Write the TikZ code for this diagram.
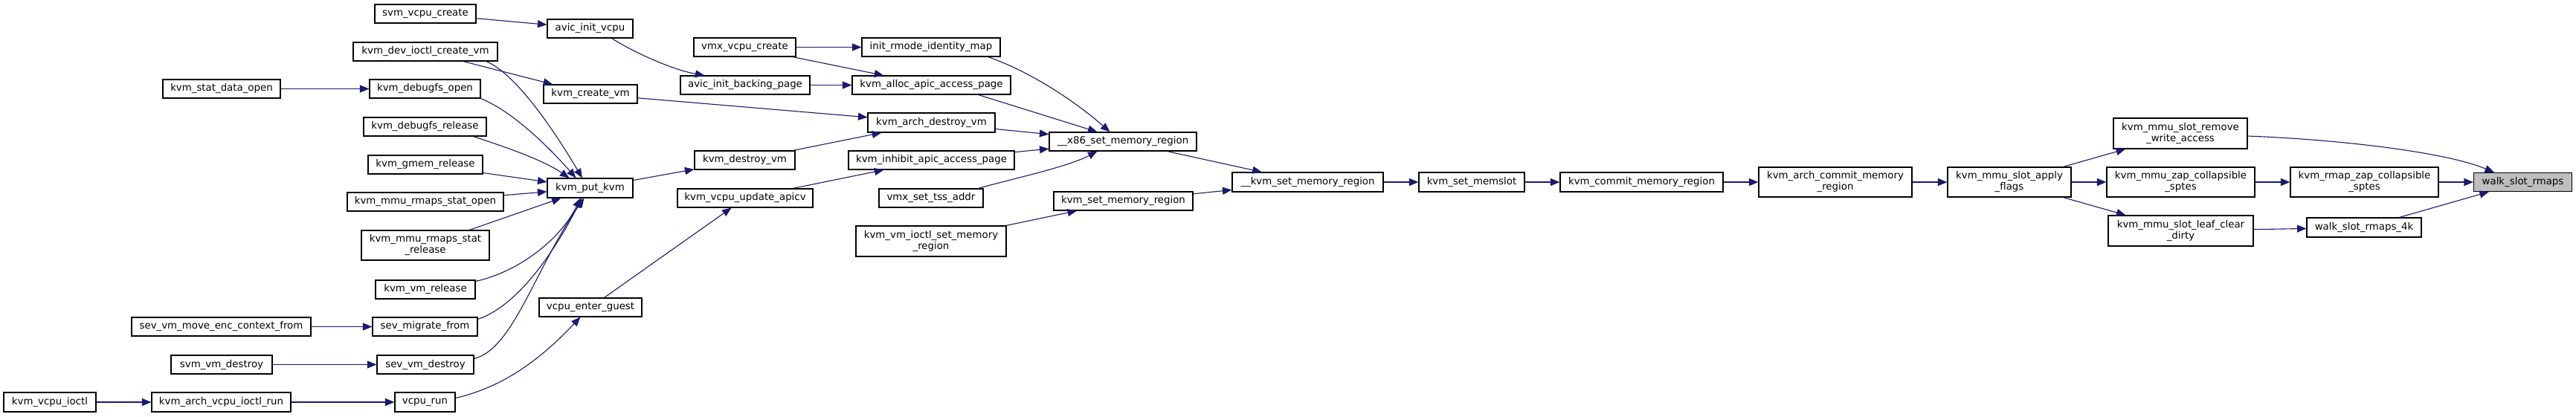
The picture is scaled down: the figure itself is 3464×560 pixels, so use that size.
\documentclass[tikz,border=0pt]{standalone}
\usepackage{fontspec}
\setmainfont{DejaVu Sans}
\usetikzlibrary{arrows.meta,calc}
\definecolor{edgeblue}{HTML}{191970}
\definecolor{rootfill}{HTML}{BFBFBF}
\begin{document}
\begin{tikzpicture}[x=1pt,y=-1pt,
 box/.style={draw=black, line width=1.1pt, fill=white, inner sep=0pt, minimum height=25pt, align=center, font=\fontsize{13.33}{15}\selectfont},
 root/.style={fill=rootfill},
 conn/.style={draw=edgeblue, line width=1.1pt, -{Triangle[length=12.5pt,width=10pt]}}]
\useasboundingbox (0,0) rectangle (3464,560);
% column C/D (left part)
\node[box, minimum width=136pt] (svmvc) at (572,18.5) {svm\_vcpu\_create};
\node[box, minimum width=115pt] (avicvcpu) at (793.5,38.5) {avic\_init\_vcpu};
\node[box, minimum width=194pt] (devioctl) at (572,69.5) {kvm\_dev\_ioctl\_create\_vm};
\node[box, minimum width=158pt] (statopen) at (298,119.5) {kvm\_stat\_data\_open};
\node[box, minimum width=149pt] (dbgopen) at (571.5,119.5) {kvm\_debugfs\_open};
\node[box, minimum width=126pt] (createvm) at (794,126.5) {kvm\_create\_vm};
\node[box, minimum width=165pt] (dbgrel) at (571.5,170.5) {kvm\_debugfs\_release};
\node[box, minimum width=154pt] (gmemrel) at (572,221.5) {kvm\_gmem\_release};
\node[box, minimum width=115pt, minimum height=26pt] (putkvm) at (793.5,253) {kvm\_put\_kvm};
\node[box, minimum width=210pt] (rmapsopen) at (572,271.5) {kvm\_mmu\_rmaps\_stat\_open};
\node[box, minimum width=172pt, minimum height=40pt] (rmapsrel) at (572,330) {kvm\_mmu\_rmaps\_stat\\\_release};
\node[box, minimum width=134pt] (vmrel) at (572,389.5) {kvm\_vm\_release};
\node[box, minimum width=138pt] (enterguest) at (794,413.5) {vcpu\_enter\_guest};
\node[box, minimum width=241pt] (sevmove) at (297.5,439.5) {sev\_vm\_move\_enc\_context\_from};
\node[box, minimum width=141pt] (sevmig) at (571.5,439.5) {sev\_migrate\_from};
\node[box, minimum width=136pt] (svmdestroy) at (298,490.5) {svm\_vm\_destroy};
\node[box, minimum width=130pt] (sevdestroy) at (572,490.5) {sev\_vm\_destroy};
\node[box, minimum width=124pt, minimum height=26pt] (vcpuioctl) at (67,541) {kvm\_vcpu\_ioctl};
\node[box, minimum width=187pt, minimum height=26pt] (archrun) at (297.5,541) {kvm\_arch\_vcpu\_ioctl\_run};
\node[box, minimum width=81pt, minimum height=26pt] (vcpurun) at (571.5,541) {vcpu\_run};
% columns E/F/G
\node[box, minimum width=137pt] (vmxcreate) at (1001.5,63.5) {vmx\_vcpu\_create};
\node[box, minimum width=186pt] (initrmode) at (1252,63.5) {init\_rmode\_identity\_map};
\node[box, minimum width=174pt] (avicback) at (1002,114.5) {avic\_init\_backing\_page};
\node[box, minimum width=213pt] (allocapic) at (1252.5,114.5) {kvm\_alloc\_apic\_access\_page};
\node[box, minimum width=171pt, minimum height=26pt] (archdestroy) at (1252.5,165) {kvm\_arch\_destroy\_vm};
\node[box, minimum width=198pt] (xsetmem) at (1510,190.5) {\_\_x86\_set\_memory\_region};
\node[box, minimum width=135pt] (destroyvm) at (1001.5,215.5) {kvm\_destroy\_vm};
\node[box, minimum width=223pt] (inhibit) at (1252.5,215.5) {kvm\_inhibit\_apic\_access\_page};
\node[box, minimum width=182pt] (updapicv) at (1002,266.5) {kvm\_vcpu\_update\_apicv};
\node[box, minimum width=140pt] (tss) at (1252,266.5) {vmx\_set\_tss\_addr};
\node[box, minimum width=187pt] (setmem) at (1510.5,270.5) {kvm\_set\_memory\_region};
\node[box, minimum width=202pt, minimum height=41pt] (vmioctlset) at (1252,324.5) {kvm\_vm\_ioctl\_set\_memory\\\_region};
% right chain
\node[box, minimum width=203pt, minimum height=26pt] (kvmsetmem) at (1758.5,245) {\_\_kvm\_set\_memory\_region};
\node[box, minimum width=142pt, minimum height=26pt] (memslot) at (1979,245) {kvm\_set\_memslot};
\node[box, minimum width=219pt, minimum height=26pt] (commit) at (2207.5,245) {kvm\_commit\_memory\_region};
\node[box, minimum width=206pt, minimum height=40pt] (archcommit) at (2468,245) {kvm\_arch\_commit\_memory\\\_region};
\node[box, minimum width=166pt, minimum height=40pt] (applyflags) at (2702,245) {kvm\_mmu\_slot\_apply\\\_flags};
\node[box, minimum width=180pt, minimum height=41pt] (removewrite) at (2932,179.5) {kvm\_mmu\_slot\_remove\\\_write\_access};
\node[box, minimum width=199pt, minimum height=40pt] (zapcoll) at (2932.5,245) {kvm\_mmu\_zap\_collapsible\\\_sptes};
\node[box, minimum width=199pt, minimum height=40pt] (rmapzap) at (3179.5,245) {kvm\_rmap\_zap\_collapsible\\\_sptes};
\node[box, root, minimum width=132pt] (walk) at (3392.5,245) {walk\_slot\_rmaps};
\node[box, minimum width=195pt, minimum height=41pt] (leafclear) at (2932.5,310.5) {kvm\_mmu\_slot\_leaf\_clear\\\_dirty};
\node[box, minimum width=154pt, minimum height=26pt] (walk4k) at (3179,306) {walk\_slot\_rmaps\_4k};
% ---- connectors ----
\draw[conn] ($(removewrite.east)+(0,3.5)$) .. controls (3150,188) and (3290,205) .. ($(walk.north west)+(28,0)$);
\draw[conn] (rmapzap) -- (walk);
\draw[conn] (walk4k) -- (walk);
\draw[conn] (leafclear) -- (walk4k);
\draw[conn] (zapcoll) -- (rmapzap);
\draw[conn] (applyflags) -- (removewrite);
\draw[conn] (applyflags) -- (zapcoll);
\draw[conn] (applyflags) -- (leafclear);
\draw[conn] (archcommit) -- (applyflags);
\draw[conn] (commit) -- (archcommit);
\draw[conn] (memslot) -- (commit);
\draw[conn] (kvmsetmem) -- (memslot);
\draw[conn] (xsetmem) -- (kvmsetmem);
\draw[conn] (setmem) -- (kvmsetmem);
\draw[conn] (vmioctlset) -- (setmem);
\draw[conn] ($(initrmode.south east)+(-17,0)$) .. controls (1390,98) and (1450,140) .. ($(xsetmem.north west)+(82,0)$);
\draw[conn] ($(allocapic.south east)+(-44,0)$) -- ($(xsetmem.north west)+(65,0)$);
\draw[conn] (archdestroy) -- (xsetmem);
\draw[conn] (inhibit) -- (xsetmem);
\draw[conn] ($(tss.north east)+(-7,0)$) .. controls (1355,242) and (1435,225) .. ($(xsetmem.south west)+(65,0)$);
\draw[conn] (vmxcreate) -- (initrmode);
\draw[conn] (vmxcreate) -- (allocapic);
\draw[conn] (avicback) -- (allocapic);
\draw[conn] (createvm) -- (archdestroy);
\draw[conn] (destroyvm) -- (archdestroy);
\draw[conn] (updapicv) -- (inhibit);
\draw[conn] ($(avicvcpu.south east)+(-29,0)$) .. controls (860,75) and (910,95) .. ($(avicback.north west)+(33,0)$);
\draw[conn] (svmvc) -- (avicvcpu);
\draw[conn] (devioctl) -- (createvm);
\draw[conn] ($(devioctl.south east)+(-16,0)$) .. controls (685,95) and (730,150) .. ($(putkvm.north west)+(47.5,0)$);
\draw[conn] (putkvm) -- (destroyvm);
\draw[conn] (enterguest) -- (updapicv);
\draw[conn] (dbgopen.south east) .. controls (690,150) and (740,200) .. ($(putkvm.north west)+(39,0)$);
\draw[conn] (statopen) -- (dbgopen);
\draw[conn] ($(dbgrel.south east)+(-18,0)$) .. controls (680,198) and (730,215) .. ($(putkvm.north west)+(30,0)$);
\draw[conn] (gmemrel) -- (putkvm);
\draw[conn] (rmapsopen) -- (putkvm);
\draw[conn] (rmapsrel) -- (putkvm);
\draw[conn] ($(vmrel.north east)+(0,2)$) .. controls (700,365) and (755,320) .. ($(putkvm.south west)+(45,0)$);
\draw[conn] ($(sevmig.north east)+(0,3)$) .. controls (700,410) and (750,330) .. ($(putkvm.south west)+(47,0)$);
\draw[conn] ($(sevdestroy.north east)+(0,5)$) .. controls (690,470) and (720,360) .. ($(putkvm.south west)+(50,0)$);
\draw[conn] (sevmove) -- (sevmig);
\draw[conn] (svmdestroy) -- (sevdestroy);
\draw[conn] ($(vcpurun.north east)+(0,8)$) .. controls (680,520) and (730,480) .. ($(enterguest.south west)+(56,0)$);
\draw[conn] (archrun) -- (vcpurun);
\draw[conn] (vcpuioctl) -- (archrun);
\end{tikzpicture}
\end{document}
